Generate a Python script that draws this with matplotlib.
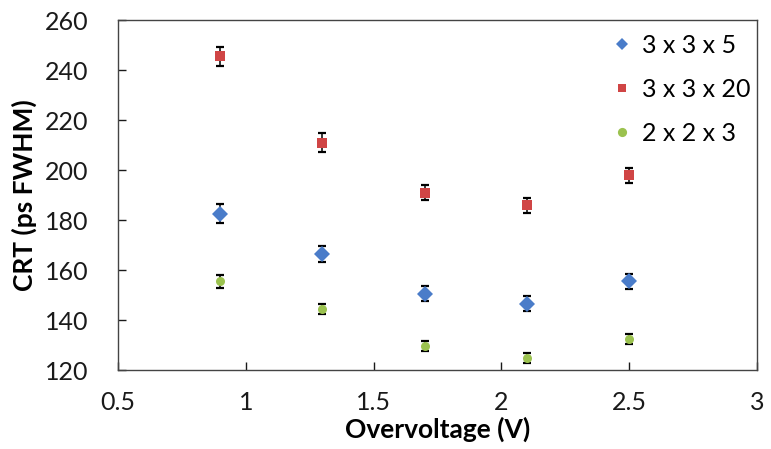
import matplotlib
matplotlib.use("Agg")
import matplotlib.pyplot as plt
from matplotlib.lines import Line2D

overvoltage = [0.9, 1.3, 1.7, 2.1, 2.5]
crt_335 = [182.5, 166.5, 150.5, 146.5, 155.5]
err_335 = [3.8, 3.3, 3.0, 3.0, 3.0]
crt_3320 = [245.5, 211.0, 191.0, 186.0, 198.0]
err_3320 = [3.8, 3.8, 3.0, 3.0, 3.0]
crt_223 = [155.5, 144.5, 129.5, 125.0, 132.5]
err_223 = [2.5, 2.0, 2.0, 2.0, 2.0]
labels = ["3 x 3 x 5", "3 x 3 x 20", "2 x 2 x 3"]
xticks = [0.5, 1, 1.5, 2, 2.5, 3]
yticks = [120, 140, 160, 180, 200, 220, 240, 260]

plt.rcParams['font.family'] = ['Lato', 'DejaVu Sans']

fig = plt.figure(figsize=(7.71, 4.49), dpi=100)
ax = fig.add_axes([118/771, 1 - 370/449, (757-118)/771, (370-20)/449])

series = [
    (crt_335, err_335, 'D', '#4a7cc9', 8, 6.4),
    (crt_3320, err_3320, 's', '#d04545', 7, 6.0),
    (crt_223, err_223, 'o', '#9bc24f', 6.5, 6.6),
]
handles = []
for (vals, errs, mk, col, ms, lms), lab in zip(series, labels):
    ax.errorbar(overvoltage, vals, yerr=errs, fmt='none', ecolor='black',
                elinewidth=1.1, capsize=3, capthick=1.6, zorder=2)
    ax.plot(overvoltage, vals, linestyle='none', marker=mk, color=col,
            markersize=ms, markeredgewidth=0, zorder=3)
    handles.append(Line2D([], [], linestyle='none', marker=mk, color=col,
                          markersize=lms, markeredgewidth=0, label=lab))

ax.set_xlim(0.5, 3)
ax.set_ylim(120, 260)
ax.set_xticks(xticks)
ax.set_xticklabels(['0.5', '1', '1.5', '2', '2.5', '3'])
ax.set_yticks(yticks)
ax.tick_params(direction='in', length=6, width=1, labelsize=18, colors='#1a1a1a')
ax.tick_params(axis='x', pad=15)
ax.tick_params(axis='y', pad=21)
for s in ax.spines.values():
    s.set_color('#444444')
    s.set_linewidth(1)

ax.set_xlabel('Overvoltage (V)', fontsize=19, fontweight='bold', va='center')
ax.xaxis.set_label_coords(0.5, (370-429)/350)
ax.set_ylabel('CRT (ps FWHM)', fontsize=19, fontweight='bold', va='center')
ax.yaxis.set_label_coords((24-118)/639, 0.5)

ax.legend(handles=handles, loc='upper right', bbox_to_anchor=(1.017, 1.011),
          frameon=False, fontsize=18,
          handlelength=0.8, handletextpad=0.4, labelspacing=0.85,
          borderaxespad=0.3)

fig.savefig('out.png', dpi=100)
